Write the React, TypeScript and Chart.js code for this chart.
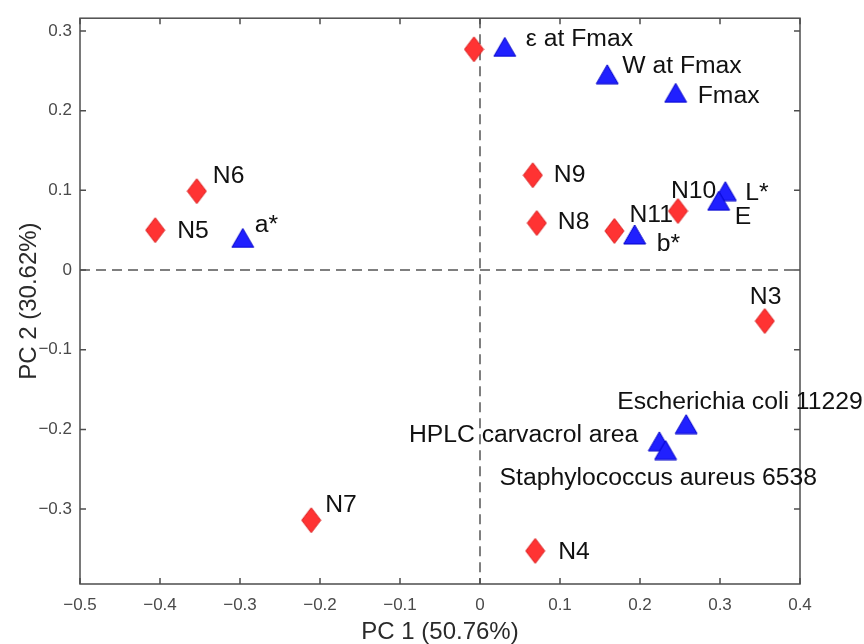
import React, { useEffect, useRef } from 'react';
import { Chart, registerables } from 'chart.js';

Chart.register(...registerables);

// ---- data ----
const sampleNames = ['', 'N3', 'N4', 'N5', 'N6', 'N7', 'N8', 'N9', 'N10', 'N11'];
const samplePC1 = [-0.0075, 0.356, 0.069, -0.406, -0.354, -0.211, 0.071, 0.066, 0.2475, 0.168];
const samplePC2 = [0.277, -0.064, -0.3525, 0.05, 0.099, -0.314, 0.059, 0.119, 0.074, 0.049];

const variableNames = [
  'ε at Fmax',
  'W at Fmax',
  'Fmax',
  'L*',
  'E',
  'b*',
  'a*',
  'Escherichia coli 11229',
  'HPLC carvacrol area',
  'Staphylococcus aureus 6538',
];
const variablePC1 = [0.031, 0.159, 0.2446, 0.3067, 0.2983, 0.1933, -0.2965, 0.2577, 0.2242, 0.232];
const variablePC2 = [0.28, 0.2456, 0.2223, 0.099, 0.0869, 0.0446, 0.0402, -0.1934, -0.215, -0.226];

const xTicks = [-0.5, -0.4, -0.3, -0.2, -0.1, 0, 0.1, 0.2, 0.3, 0.4];
const yTicks = [-0.3, -0.2, -0.1, 0, 0.1, 0.2, 0.3];

const xTitle = 'PC 1 (50.76%)';
const yTitle = 'PC 2 (30.62%)';

// ---- label placement (pixel offsets from marker centre) ----
type Off = [number, number, CanvasTextAlign];
const sampleLabelOffsets: Off[] = [
  [0, 0, 'left'],
  [-15, -23, 'left'],
  [23, 2, 'left'],
  [22, 1, 'left'],
  [16, -14, 'left'],
  [14, -15, 'left'],
  [21, 0, 'left'],
  [21, 0, 'left'],
  [-7, -19, 'left'],
  [15, -15, 'left'],
];
const variableLabelOffsets: Off[] = [
  [21, -7, 'left'],
  [15, -8, 'left'],
  [22, 4, 'left'],
  [20, 3, 'left'],
  [16, 17, 'left'],
  [22, 10, 'left'],
  [12, -12, 'left'],
  [-69, -21, 'left'],
  [-21, -6, 'right'],
  [-166, 29, 'left'],
];

const FONT = '"Liberation Sans", Arial, Helvetica, sans-serif';
const LABEL_STRETCH = 1.075;

function makeDiamond(): HTMLCanvasElement {
  const c = document.createElement('canvas');
  c.width = 21;
  c.height = 27;
  const g = c.getContext('2d')!;
  g.beginPath();
  g.moveTo(10.5, 1);
  g.lineTo(20, 13.5);
  g.lineTo(10.5, 26);
  g.lineTo(1, 13.5);
  g.closePath();
  g.fillStyle = '#ff3333';
  g.fill();
  g.strokeStyle = '#d91c1c';
  g.lineWidth = 1;
  g.stroke();
  return c;
}

function makeTriangle(): HTMLCanvasElement {
  const c = document.createElement('canvas');
  c.width = 24;
  c.height = 21;
  const g = c.getContext('2d')!;
  g.beginPath();
  g.moveTo(12, 1);
  g.lineTo(23, 20);
  g.lineTo(1, 20);
  g.closePath();
  g.fillStyle = '#2020ff';
  g.fill();
  g.strokeStyle = '#0000c8';
  g.lineWidth = 1;
  g.stroke();
  return c;
}

const fmt = (v: number) => (v === 0 ? '0' : (v < 0 ? '\u2212' : '') + Math.abs(v).toFixed(1));

const framePlugin = {
  id: 'frame',
  beforeDatasetsDraw(chart: any) {
    const { ctx, chartArea: a, scales } = chart;
    const x = scales.x;
    const y = scales.y;
    ctx.save();
    // zero lines
    ctx.strokeStyle = '#555555';
    ctx.lineWidth = 1.5;
    ctx.setLineDash([10, 6]);
    const x0 = x.getPixelForValue(0);
    const y0 = y.getPixelForValue(0);
    ctx.beginPath();
    ctx.moveTo(x0, a.top);
    ctx.lineTo(x0, a.bottom);
    ctx.moveTo(a.left, y0);
    ctx.lineTo(a.right, y0);
    ctx.stroke();
    ctx.setLineDash([]);
    // box
    ctx.strokeStyle = '#4d4d4d';
    ctx.lineWidth = 1.5;
    ctx.strokeRect(a.left, a.top, a.right - a.left, a.bottom - a.top);
    // inward ticks
    const tl = 6;
    ctx.beginPath();
    x.ticks.forEach((t: any) => {
      const px = x.getPixelForValue(t.value);
      ctx.moveTo(px, a.bottom);
      ctx.lineTo(px, a.bottom - tl);
      ctx.moveTo(px, a.top);
      ctx.lineTo(px, a.top + tl);
    });
    y.ticks.forEach((t: any) => {
      const py = y.getPixelForValue(t.value);
      ctx.moveTo(a.left, py);
      ctx.lineTo(a.left + tl, py);
      ctx.moveTo(a.right, py);
      ctx.lineTo(a.right - tl, py);
    });
    ctx.stroke();
    ctx.restore();
  },
};

const labelPlugin = {
  id: 'pointLabels',
  afterDatasetsDraw(chart: any) {
    const { ctx } = chart;
    const groups: [string[], Off[]][] = [
      [sampleNames, sampleLabelOffsets],
      [variableNames, variableLabelOffsets],
    ];
    groups.forEach(([names, offs], di) => {
      const meta = chart.getDatasetMeta(di);
      meta.data.forEach((el: any, i: number) => {
        const name = names[i];
        if (!name) return;
        const [dx, dy, align] = offs[i];
        ctx.save();
        ctx.font = `23px ${FONT}`;
        ctx.fillStyle = '#111111';
        ctx.textBaseline = 'middle';
        ctx.textAlign = align;
        ctx.translate(el.x + dx, el.y + dy);
        ctx.scale(LABEL_STRETCH, 1);
        ctx.fillText(name, 0, 0);
        ctx.restore();
      });
    });
  },
};

export default function App() {
  const ref = useRef<HTMLCanvasElement | null>(null);

  useEffect(() => {
    if (!ref.current) return;
    const diamond = makeDiamond();
    const triangle = makeTriangle();
    const tickFont = { family: FONT, size: 17 };
    const chart = new Chart(ref.current, {
      type: 'scatter',
      data: {
        datasets: [
          {
            label: 'Samples',
            data: samplePC1.map((v, i) => ({ x: v, y: samplePC2[i] })),
            pointStyle: diamond as any,
            pointRadius: 12,
            pointHoverRadius: 12,
          },
          {
            label: 'Variables',
            data: variablePC1.map((v, i) => ({ x: v, y: variablePC2[i] })),
            pointStyle: triangle as any,
            pointRadius: 12,
            pointHoverRadius: 12,
          },
        ],
      },
      options: {
        animation: false,
        responsive: false,
        events: [],
        layout: { padding: { top: 16, right: 64, bottom: 0, left: 0 } },
        plugins: {
          legend: { display: false },
          tooltip: { enabled: false },
        },
        scales: {
          x: {
            type: 'linear',
            min: -0.5,
            max: 0.4,
            afterBuildTicks: (s: any) => {
              s.ticks = xTicks.map((v) => ({ value: v }));
            },
            afterFit: (s: any) => {
              s.height = 60;
            },
            grid: { display: false, drawTicks: false },
            border: { display: false },
            ticks: {
              padding: 11,
              autoSkip: false,
              maxRotation: 0,
              font: tickFont,
              color: '#4a4a4a',
              callback: (v: any) => fmt(Number(v)),
            },
            title: {
              display: true,
              text: xTitle,
              color: '#2a2a2a',
              font: { family: FONT, size: 24, lineHeight: 1 },
              padding: { top: 0, bottom: 0 },
            },
          },
          y: {
            type: 'linear',
            min: -0.394,
            max: 0.316,
            afterBuildTicks: (s: any) => {
              s.ticks = yTicks.map((v) => ({ value: v }));
            },
            afterFit: (s: any) => {
              s.width = 80;
            },
            grid: { display: false, drawTicks: false },
            border: { display: false },
            ticks: {
              padding: 8,
              autoSkip: false,
              font: tickFont,
              color: '#4a4a4a',
              callback: (v: any) => fmt(Number(v)),
            },
            title: {
              display: true,
              text: yTitle,
              color: '#2a2a2a',
              font: { family: FONT, size: 24, lineHeight: 1 },
              padding: { top: 17, bottom: 0 },
            },
          },
        },
      },
      plugins: [framePlugin, labelPlugin],
    });
    return () => chart.destroy();
  }, []);

  return (
    <div
      style={{
        position: 'fixed',
        left: 0,
        top: 0,
        width: 864,
        height: 644,
        background: '#ffffff',
      }}
    >
      <canvas ref={ref} width={864} height={644} style={{ display: 'block' }} />
    </div>
  );
}
